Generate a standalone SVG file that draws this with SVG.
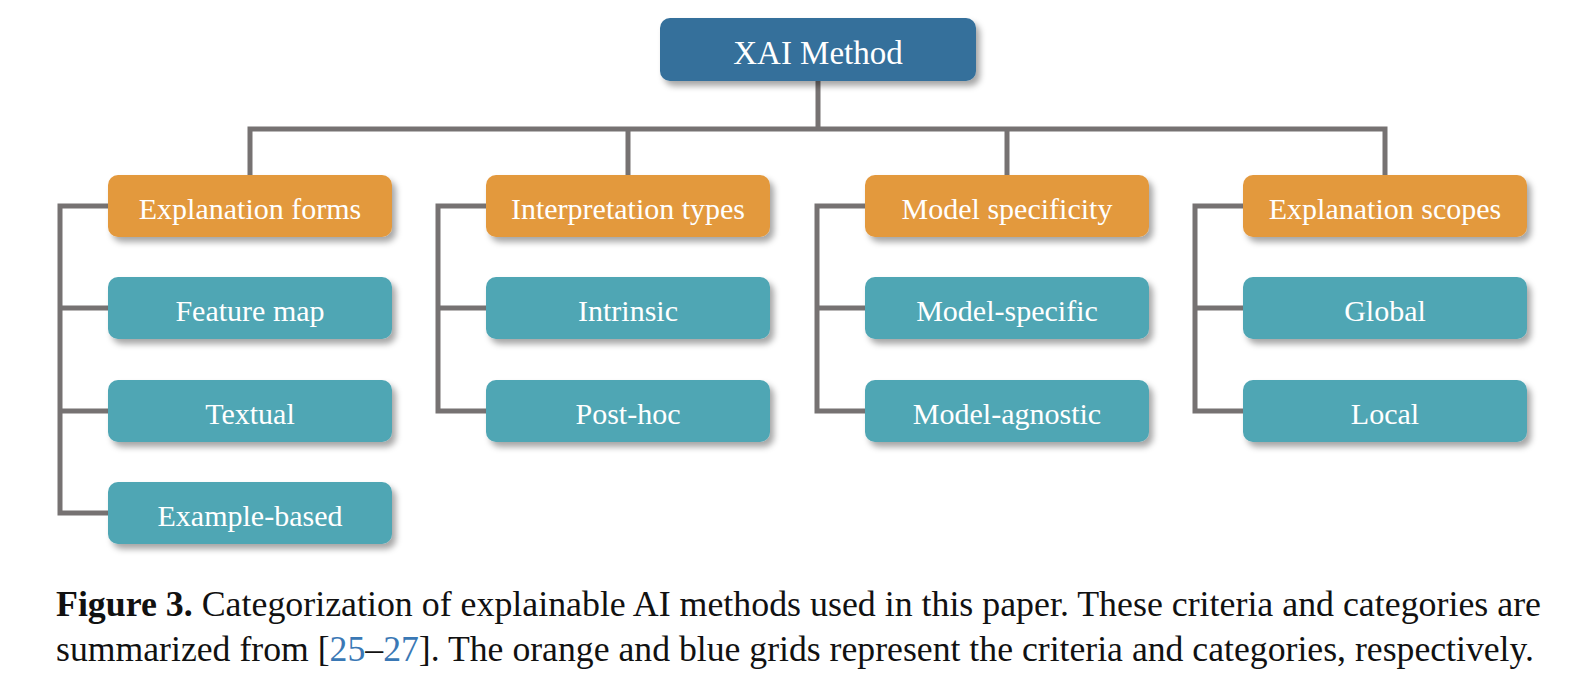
<svg xmlns="http://www.w3.org/2000/svg" width="1596" height="690" viewBox="0 0 1596 690">
<defs>
<filter id="sh" x="-10%" y="-20%" width="125%" height="160%">
<feDropShadow dx="4" dy="5" stdDeviation="3" flood-color="#000" flood-opacity="0.35"/>
</filter>
<style>
.root{fill:#34709b;filter:url(#sh)}
.crit{fill:#e3993e;filter:url(#sh)}
.cat{fill:#4fa6b4;filter:url(#sh)}
.t{font-family:"Liberation Serif","Times New Roman",serif;font-size:30px;fill:#fff;text-anchor:middle}
.tr{font-size:33px}
.ln{fill:none;stroke:#767272;stroke-width:5;stroke-linejoin:miter}
.cap{font-family:"Liberation Serif","Times New Roman",serif;font-size:35px;fill:#111}
.ref{fill:#3a78b5}
</style>
</defs>
<rect width="1596" height="690" fill="#fff"/>
<g id="connectors">
<path class="ln" d="M818 81V129M250 175V129H1385V175M628 129V175M1007 129V175"/>
<path class="ln" d="M108 206H60V513H108M60 308H108M60 411H108"/>
<path class="ln" d="M486 206H438V411H486M438 308H486"/>
<path class="ln" d="M865 206H817V411H865M817 308H865"/>
<path class="ln" d="M1243 206H1195V411H1243M1195 308H1243"/>
</g>
<g id="xai"><rect class="root" x="660" y="18" width="316" height="63" rx="10"/><text class="t tr" x="818" y="64">XAI Method</text></g>
<g id="explanation-forms"><rect class="crit" x="108" y="175" width="284" height="62" rx="10"/><text class="t" x="250" y="219">Explanation forms</text></g>
<g id="feature-map"><rect class="cat" x="108" y="277" width="284" height="62" rx="10"/><text class="t" x="250" y="321">Feature map</text></g>
<g id="textual"><rect class="cat" x="108" y="380" width="284" height="62" rx="10"/><text class="t" x="250" y="424">Textual</text></g>
<g id="example-based"><rect class="cat" x="108" y="482" width="284" height="62" rx="10"/><text class="t" x="250" y="526">Example-based</text></g>
<g id="interpretation-types"><rect class="crit" x="486" y="175" width="284" height="62" rx="10"/><text class="t" x="628" y="219">Interpretation types</text></g>
<g id="intrinsic"><rect class="cat" x="486" y="277" width="284" height="62" rx="10"/><text class="t" x="628" y="321">Intrinsic</text></g>
<g id="post-hoc"><rect class="cat" x="486" y="380" width="284" height="62" rx="10"/><text class="t" x="628" y="424">Post-hoc</text></g>
<g id="model-specificity"><rect class="crit" x="865" y="175" width="284" height="62" rx="10"/><text class="t" x="1007" y="219">Model specificity</text></g>
<g id="model-specific"><rect class="cat" x="865" y="277" width="284" height="62" rx="10"/><text class="t" x="1007" y="321">Model-specific</text></g>
<g id="model-agnostic"><rect class="cat" x="865" y="380" width="284" height="62" rx="10"/><text class="t" x="1007" y="424">Model-agnostic</text></g>
<g id="explanation-scopes"><rect class="crit" x="1243" y="175" width="284" height="62" rx="10"/><text class="t" x="1385" y="219">Explanation scopes</text></g>
<g id="global"><rect class="cat" x="1243" y="277" width="284" height="62" rx="10"/><text class="t" x="1385" y="321">Global</text></g>
<g id="local"><rect class="cat" x="1243" y="380" width="284" height="62" rx="10"/><text class="t" x="1385" y="424">Local</text></g>
<g id="caption">
<text class="cap" x="56" y="616" textLength="1485" lengthAdjust="spacingAndGlyphs"><tspan font-weight="bold">Figure 3.</tspan> Categorization of explainable AI methods used in this paper. These criteria and categories are</text>
<text class="cap" x="56" y="661" textLength="1478" lengthAdjust="spacingAndGlyphs">summarized from [<tspan class="ref">25</tspan>–<tspan class="ref">27</tspan>]. The orange and blue grids represent the criteria and categories, respectively.</text>
</g>
</svg>
